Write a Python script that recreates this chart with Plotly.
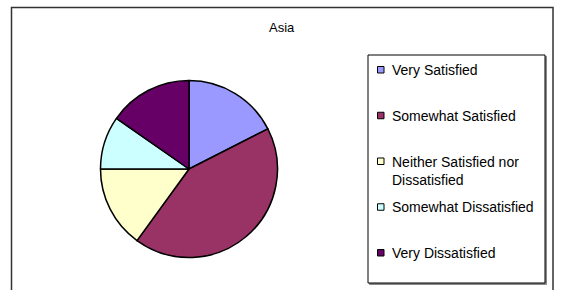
import plotly.graph_objects as go

# Data
title = "Asia"
labels = ["Very Satisfied", "Somewhat Satisfied", "Neither Satisfied nor Dissatisfied",
          "Somewhat Dissatisfied", "Very Dissatisfied"]
values = [17.5, 42.5, 15.0, 9.7, 15.3]
colors = ["#9999FF", "#993366", "#FFFFCC", "#CCFFFF", "#660066"]

W, H = 561, 290
FONT = "Liberation Sans, Arial, sans-serif"


def px(x):
    return x / W


def py(y):
    return 1 - y / H


cx, cy, r = 189, 169, 88.5

fig = go.Figure(go.Pie(
    labels=labels, values=values, sort=False, direction="clockwise", rotation=0,
    marker=dict(colors=colors, line=dict(color="#000000", width=1.5)),
    textinfo="none", showlegend=False,
    domain=dict(x=[px(cx - r), px(cx + r)], y=[py(cy + r), py(cy - r)]),
))

shapes = [
    # outer chart frame
    dict(type="rect", xref="paper", yref="paper", x0=px(11.5), x1=px(553), y0=py(7.5), y1=py(300),
         line=dict(color="#333333", width=1.5), fillcolor="rgba(0,0,0,0)"),
    # legend shadow
    dict(type="rect", xref="paper", yref="paper", x0=px(369.5), x1=px(546.5), y0=py(56.5), y1=py(284.5),
         line=dict(color="#888888", width=1), fillcolor="#888888"),
    # legend box
    dict(type="rect", xref="paper", yref="paper", x0=px(368), x1=px(545), y0=py(55), y1=py(283),
         line=dict(color="#000000", width=1), fillcolor="#FFFFFF"),
]
annotations = [
    dict(text=title, x=px(282), y=py(28), xref="paper", yref="paper", showarrow=False,
         xanchor="center", yanchor="middle", font=dict(family=FONT, size=13, color="#000000")),
]

for i, (lab, col) in enumerate(zip(labels, colors)):
    yc = 70 + 45.75 * i
    shapes.append(dict(type="rect", xref="paper", yref="paper",
                       x0=px(377.5), x1=px(384), y0=py(yc - 3.5), y1=py(yc + 3),
                       line=dict(color="#000000", width=1), fillcolor=col))
    annotations.append(dict(text=lab.replace("nor ", "nor<br>"), x=px(390), y=py(yc - 10),
                            xref="paper", yref="paper", showarrow=False, align="left",
                            xanchor="left", yanchor="top",
                            font=dict(family=FONT, size=14, color="#000000")))

fig.update_layout(
    width=W, height=H, margin=dict(l=0, r=0, t=0, b=0),
    paper_bgcolor="#FFFFFF", plot_bgcolor="#FFFFFF",
    shapes=shapes, annotations=annotations,
)

fig.write_html("out.html", config={"displayModeBar": False},
               post_script="document.body.style.margin='0';document.body.style.overflow='hidden';")
